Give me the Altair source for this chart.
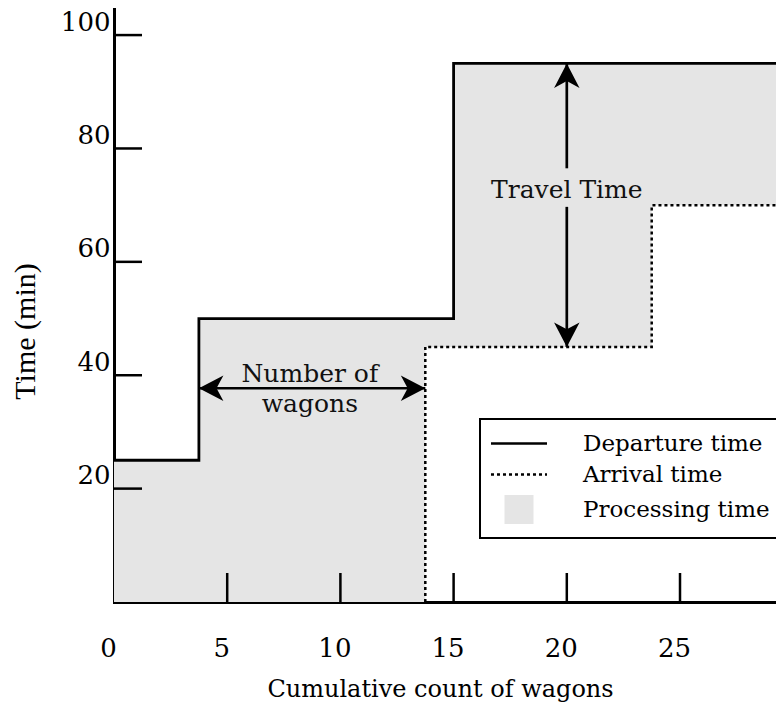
import altair as alt
import pandas as pd

# ---- data ----
# processing-time band (between departure and arrival step curves)
step_x = [0, 3.75, 13.75, 15.0, 23.75, 29.6]
proc_top = [25, 50, 50, 95, 95, 95]
proc_bottom = [0, 0, 45, 45, 70, 70]

# departure time (solid step line)
dep_x = [0, 3.75, 15.0, 29.6]
dep_y = [25, 50, 95, 95]

# arrival time (dotted step line)
arr_x = [13.75, 13.75, 23.75, 29.6]
arr_y = [0, 45, 70, 70]

x_label_values = [0, 5, 10, 15, 20, 25]
y_label_values = [20, 40, 60, 80, 100]
x_inner_ticks = [5, 10, 15, 20, 25]
y_inner_ticks = [20, 40, 60, 80, 100]

series_names = ["Departure time", "Arrival time", "Processing time"]

# annotations
wagons_arrow_x = [3.75, 13.75]
wagons_arrow_y = 37.7
wagons_text = "Number of\nwagons"
wagons_text_x = 8.65
travel_arrow_x = 20
travel_arrow_y = [45, 95]
travel_gap = [69.7, 76.5]
travel_text = "Travel Time"
travel_text_y = 72.6

X_MAX = 29.24
Y_MAX = 104.6
W, H = 662, 593
FONT = "DejaVu Serif"
GRAY = "#e5e5e5"

x_scale = alt.Scale(domain=[0, X_MAX], nice=False, zero=False)
y_scale = alt.Scale(domain=[0, Y_MAX], nice=False, zero=False)

x_axis = alt.Axis(
    values=x_label_values, ticks=False, tickSize=0, grid=False,
    domainColor="black", domainWidth=3, domainCap="square",
    labelFont=FONT, labelFontSize=26, labelColor="black",
    labelPadding=46, labelBaseline="middle", labelOffset=-6,
    labelFlush=False, labelOverlap=False, format="d",
    title="Cumulative count of wagons", titleFont=FONT, titleFontSize=24,
    titleFontWeight="normal", titleColor="black",
    titleX=326, titleY=87, titleAlign="center", titleBaseline="middle",
)
y_axis = alt.Axis(
    values=y_label_values, ticks=False, tickSize=0, grid=False,
    domainColor="black", domainWidth=3, domainCap="square",
    labelFont=FONT, labelFontSize=26, labelColor="black",
    labelPadding=4, labelAlign="right", labelBaseline="middle", labelOffset=-13,
    labelFlush=False, labelOverlap=False, format="d",
    title="Time (min)", titleFont="Liberation Serif", titleFontSize=30,
    titleFontWeight="normal", titleColor="black", titleAngle=270,
    titleX=-89, titleY=322, titleAlign="center", titleBaseline="middle",
)


def X(field="x"):
    return alt.X(f"{field}:Q", scale=x_scale, axis=x_axis)


def Y(field="y"):
    return alt.Y(f"{field}:Q", scale=y_scale, axis=y_axis)


band_df = pd.DataFrame({"x": step_x, "y": proc_top, "y2": proc_bottom})
dep_df = pd.DataFrame({"x": dep_x, "y": dep_y})
arr_df = pd.DataFrame({"x": arr_x, "y": arr_y})

band = alt.Chart(band_df).mark_area(
    interpolate="step-after", color=GRAY, clip=True
).encode(x=X(), y=Y(), y2="y2:Q")

dep_line = alt.Chart(dep_df).mark_line(
    interpolate="step-after", color="black", strokeWidth=2.8, clip=True
).encode(x=X(), y=Y())

arr_line = alt.Chart(arr_df).mark_line(
    interpolate="step-after", color="black", strokeWidth=2.5,
    strokeDash=[3, 3], clip=True
).encode(x=X(), y=Y())

# inward ticks
xt = alt.Chart(pd.DataFrame({"x": x_inner_ticks})).mark_rule(
    color="black", strokeWidth=2.5
).encode(x=X(), y=alt.value(H), y2=alt.value(H - 29))
yt = alt.Chart(pd.DataFrame({"y": y_inner_ticks})).mark_rule(
    color="black", strokeWidth=2.5
).encode(y=Y(), x=alt.value(0), x2=alt.value(28))

# arrows
shaft_df = pd.DataFrame({
    "x": [wagons_arrow_x[0], travel_arrow_x, travel_arrow_x],
    "x2": [wagons_arrow_x[1], travel_arrow_x, travel_arrow_x],
    "y": [wagons_arrow_y, travel_arrow_y[1], travel_gap[0]],
    "y2": [wagons_arrow_y, travel_gap[1], travel_arrow_y[0]],
})
shafts = alt.Chart(shaft_df).mark_rule(color="black", strokeWidth=2.7).encode(
    x=X(), x2="x2:Q", y=Y(), y2="y2:Q"
)

head_df = pd.DataFrame({
    "x": [wagons_arrow_x[0], wagons_arrow_x[1], travel_arrow_x, travel_arrow_x],
    "y": [wagons_arrow_y, wagons_arrow_y, travel_arrow_y[1], travel_arrow_y[0]],
    "angle": [180, 0, 270, 90],
})
ARROW = "M0,0L-1,-0.52L-0.72,0L-1,0.52Z"
heads = alt.Chart(head_df).mark_point(
    shape=ARROW, filled=True, color="black", size=2400, opacity=1
).encode(x=X(), y=Y(), angle=alt.Angle("angle:Q", scale=None))

wagons_label = alt.Chart(pd.DataFrame({
    "x": [wagons_text_x], "y": [wagons_arrow_y], "label": [wagons_text]
})).mark_text(
    font=FONT, fontSize=25, color="#111111", align="center",
    baseline="middle", lineBreak="\n", lineHeight=30, dy=-14
).encode(x=X(), y=Y(), text="label:N")

travel_label = alt.Chart(pd.DataFrame({
    "x": [travel_arrow_x], "y": [travel_text_y], "label": [travel_text]
})).mark_text(
    font=FONT, fontSize=25, color="#111111", align="center", baseline="middle"
).encode(x=X(), y=Y(), text="label:N")

# legend (native legend from a clipped point layer)
legend_df = pd.DataFrame({"x": [-10] * 3, "y": [-10] * 3, "series": series_names})
LINE = "M-1.867,0H1.867"
SQUARE = "M-0.967,-0.967H0.967V0.967H-0.967Z"
leg = alt.Legend(
    title=None, orient="none", legendX=366, legendY=410,
    symbolSize=900, symbolStrokeWidth=2.5, symbolOpacity=1, symbolOffset=14.5,
    labelFont=FONT, labelFontSize=23, labelColor="black", labelLimit=500,
    labelOffset=47.5, padding=8, strokeColor="black",
)
legend_pts = alt.Chart(legend_df).mark_point(
    filled=True, clip=True, strokeWidth=2.5
).encode(
    x=X(), y=Y(),
    shape=alt.Shape("series:N", scale=alt.Scale(domain=series_names, range=[LINE, LINE, SQUARE]), legend=leg),
    strokeDash=alt.StrokeDash("series:N", scale=alt.Scale(domain=series_names, range=[[1, 0], [3, 3], [1, 0]]), legend=leg),
    fill=alt.Fill("series:N", scale=alt.Scale(domain=series_names, range=["transparent", "transparent", GRAY]), legend=leg),
    stroke=alt.Stroke("series:N", scale=alt.Scale(domain=series_names, range=["black", "black", "transparent"]), legend=leg),
)

chart = alt.layer(
    band, dep_line, arr_line, xt, yt, shafts, heads,
    wagons_label, travel_label, legend_pts
).properties(
    width=W, height=H,
    autosize=alt.AutoSizeParams(type="none"),
    padding={"left": 106, "top": 1, "right": 0, "bottom": 101},
).configure_view(stroke=None).configure_legend(strokeWidth=2)

chart.save("out.html", embed_options={"renderer": "svg", "actions": False})
